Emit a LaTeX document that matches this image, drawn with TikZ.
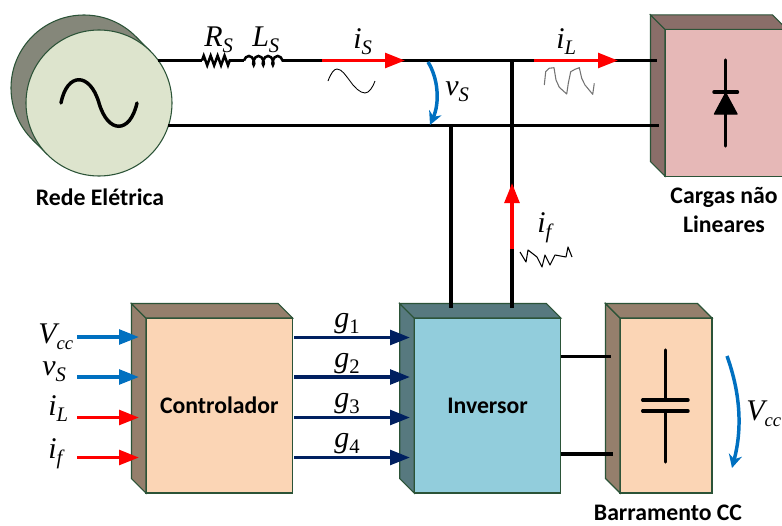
\documentclass[tikz,border=0pt]{standalone}
\usepackage{fontspec}
\setmainfont{Carlito}
\newfontfamily\symfont{Liberation Serif}
\usetikzlibrary{calc,arrows.meta,decorations.pathmorphing}
\definecolor{edgegreen}{HTML}{2B5337}
\definecolor{srcfront}{HTML}{DDE4CD}
\definecolor{srcside}{HTML}{85877A}
\definecolor{ctrlfront}{HTML}{FBD5B5}
\definecolor{ctrlside}{HTML}{957F6C}
\definecolor{invfront}{HTML}{92CDDC}
\definecolor{invside}{HTML}{57797F}
\definecolor{loadfront}{HTML}{E6B8B7}
\definecolor{loadside}{HTML}{8A6E69}
\definecolor{measblue}{HTML}{0070C0}
\definecolor{gatenavy}{HTML}{002060}
\tikzset{
  face/.style={draw=edgegreen, line width=.8pt},
  block/.style={face, rectangle, inner sep=0pt, outer sep=0pt, font=\bfseries\fontsize{17.8}{17.8}\selectfont},
  caption/.style={inner sep=0pt, align=center, font=\bfseries\fontsize{17.8}{21.75}\selectfont},
  sym/.style={inner sep=0pt, anchor=base west},
  wire/.style={line width=2.6pt},
  thinwave/.style={line width=.8pt, line join=round},
  redarrow/.style={red, line width=2.6pt, -{Triangle[length=15pt,width=11pt]}},
  bluearrow/.style={measblue, line width=2.6pt, -{Triangle[length=15pt,width=11pt]}},
  navyarrow/.style={gatenavy, line width=2.6pt, -{Triangle[length=15pt,width=11pt]}},
  bowarrow/.style={measblue, line width=2.6pt, -{Stealth[length=10pt,width=10pt]}}
}
\newcommand{\sidefaces}[2]{
  \draw[face, fill=#2] (#1.north west) -- ++(-14.5,-14.5) -- ($(#1.south west)+(-14.5,-14.5)$) -- (#1.south west) -- cycle;
  \draw[face, fill=#2] (#1.north west) -- ++(-14.5,-14.5) -- ($(#1.north east)+(-14.5,-14.5)$) -- (#1.north east) -- cycle;
}
\newcommand{\qsym}[2]{\fontsize{22.5}{24}\symfont\itshape #1\raisebox{-4.5pt}{\fontsize{15.5}{16}\selectfont #2}}
\begin{document}
\begin{tikzpicture}[x=.75pt, y=-.75pt]
\clip (0,0) rectangle (782,525);
\node[circle, face, fill=srcside, inner sep=0pt, outer sep=0pt, minimum size=109.5pt] (srcback) at (84,88){};
\fill[srcside] (srcback.45) -- (150.6,51.4) -- (47.4,154.6) -- (srcback.225) -- cycle;
\draw[face] (srcback.45) -- (150.6,51.4);
\draw[face] (srcback.225) -- (47.4,154.6);
\node[circle, face, fill=srcfront, inner sep=0pt, outer sep=0pt, minimum size=109.5pt] (src) at (99,103){};
\draw[line width=2.6pt, line cap=round] (61,103) .. controls (67,72) and (90,72) .. (99,103) .. controls (108,134) and (130,134) .. (137,103);
\node[caption] (srclabel) at (100,197){Rede Elétrica};

\node[block, fill=loadfront, minimum width=91.5pt, minimum height=110pt] (load) at (726,102.75){};
\sidefaces{load}{loadside}
\node[caption] (loadlabel) at (724,209.5){Cargas não\\Lineares};

\node[block, fill=ctrlfront, minimum width=109.9pt, minimum height=131.25pt] (ctrl) at (219.25,405.5){Controlador};
\sidefaces{ctrl}{ctrlside}
\node[block, fill=invfront, minimum width=109.9pt, minimum height=131.25pt] (inv) at (487.5,405.5){Inversor};
\sidefaces{inv}{invside}
\node[block, fill=ctrlfront, minimum width=69pt, minimum height=131.25pt] (bus) at (666,405.5){};
\sidefaces{bus}{ctrlside}
\node[caption] (buslabel) at (668,513){Barramento CC};

\coordinate (ra) at (202,60.5);
\coordinate (rb) at (230,60.5);
\coordinate (la) at (244,60.5);
\coordinate (lb) at (283,60.5);
\coordinate (topend) at (657,60.5);
\coordinate (botend) at (659,125.5);
\coordinate (jtop) at (512,60.5);
\coordinate (jbot) at (451,125.5);
\coordinate (invtopa) at (451,308);
\coordinate (invtopb) at (512,308);
\draw[wire] (ra -| src.36) -- (ra);
\draw[line width=1.9pt, decorate, decoration={zigzag, segment length=5.2pt, amplitude=3.6pt}] (ra) -- (rb);
\draw[line width=1.9pt] (rb) -- (la);
\draw[line width=1.9pt, decorate, decoration={coil, aspect=.55, segment length=7.2pt, amplitude=3.4pt}] (la) -- (lb);
\draw[wire] (lb) -- (topend);
\draw[wire] (botend -| src.-18) -- (botend);
\draw[wire] (jbot) -- (invtopa);
\draw[wire] (jtop) -- (invtopb);

\coordinate (busa) at (610.7,356.7);
\coordinate (busb) at (612.7,454);
\draw[wire] (inv.east |- busa) -- (busa);
\draw[wire] (inv.east |- busb) -- (busb);

\coordinate (isa) at (322,60.5);
\coordinate (isb) at (405,60.5);
\coordinate (ila) at (534,60.5);
\coordinate (ilb) at (618,60.5);
\coordinate (ifa) at (512,249);
\coordinate (ifb) at (512,183);
\draw[redarrow] (isa) -- (isb);
\draw[redarrow] (ila) -- (ilb);
\draw[redarrow] (ifa) -- (ifb);

\node[sym] (rs) at (204,46){\qsym{R}{S}};
\node[sym] (ls) at (252,46){\qsym{L}{S}};
\node[sym] (is) at (353,48){\qsym{i}{S}};
\node[sym] (il) at (556,48){\qsym{i}{L}};
\node[sym] (vs) at (445,95){\qsym{v}{S}};
\node[sym] (if) at (537,232){\qsym{i}{f}};

\coordinate (vsa) at (428,62);
\coordinate (vsb) at (430,125);
\draw[bowarrow] (vsa) .. controls (438,78) and (440,102) .. (vsb);
\coordinate (vca) at (727,356);
\coordinate (vcb) at (732,468);
\draw[bowarrow] (vca) .. controls (741,395) and (742,430) .. (vcb);
\node[sym] (vcc) at (746,420){\qsym{V}{\fontsize{14}{14}\selectfont cc}};

\draw[thinwave, line width=.65pt] (328,81) .. controls (331,73) and (334,69) .. (337,69) .. controls (342,69) and (346,76) .. (350,81) .. controls (354,87) and (360,93) .. (365,93) .. controls (369,93) and (373,87) .. (375,81);
\draw[thinwave, black!55] (544.3,85) -- (545.7,71.7) -- (549,68.3) -- (554,67.7) -- (556,80) -- (559.3,87.3) -- (566.7,94) -- (568.3,83.3) -- (570.7,71.7) -- (575,69.3) -- (579.3,67.7) -- (581.7,78.3) -- (585,85) -- (592.7,94.3) -- (594.3,83.3);
\draw[thinwave] (520,252) -- (526,262) -- (528,250) -- (537,257) -- (542,267) -- (545,255) -- (550,265) -- (555,255) -- (566,257) -- (568,247) -- (572,257);

\draw[wire, line cap=round] (725.7,60) -- (725.7,146);
\draw[wire, line cap=round] (714,92) -- (737.5,92);
\fill[line join=round, draw, line width=1pt] (725.7,93) -- (737,114) -- (714.5,114) -- cycle;

\draw[wire, line cap=round] (665.3,350) -- (665.3,400);
\draw[wire, line cap=round] (665.3,411) -- (665.3,462);
\draw[wire, line cap=round] (642.7,400) -- (688,400);
\draw[wire, line cap=round] (642.7,411) -- (688,411);

\foreach \n/\y/\c in {1/337/bluearrow, 2/377/bluearrow, 3/417.5/redarrow, 4/457.5/redarrow}{
  \coordinate (ina\n) at (77,\y);
  \coordinate (inb\n) at (139,\y);
  \draw[\c] (ina\n) -- (inb\n);
}
\node[sym] (invcc) at (38,343){\qsym{V}{\fontsize{14}{14}\selectfont cc}};
\node[sym] (invs) at (42,375){\qsym{v}{S}};
\node[sym] (inil) at (48,415){\qsym{i}{L}};
\node[sym] (inif) at (48,458){\qsym{i}{f}};

\foreach \y/\n in {337.5/1, 377/2, 417.5/3, 457.5/4}{
  \coordinate (outa\n) at (294,\y);
  \coordinate (outb\n) at (410,\y);
  \draw[navyarrow] (outa\n) -- (outb\n);
  \node[sym] (g\n) at (334,\y-10){\qsym{g}{\upshape\n}};
}
\end{tikzpicture}
\end{document}
